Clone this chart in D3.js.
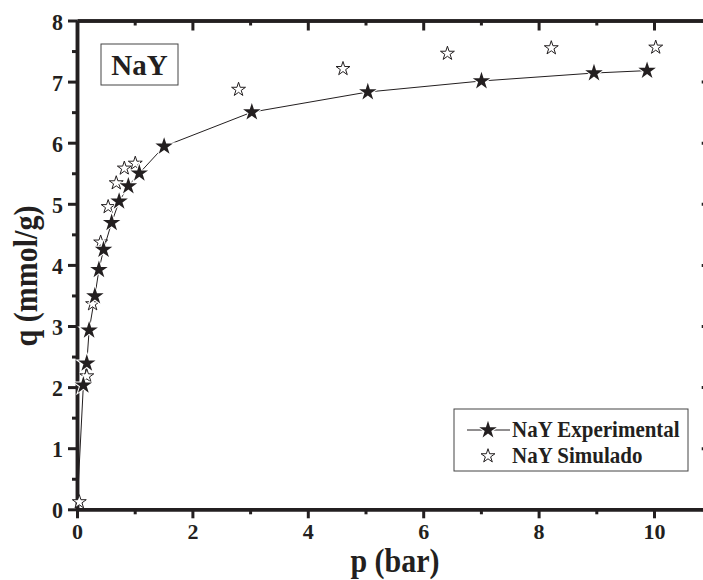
<!DOCTYPE html>
<html>
<head>
<meta charset="utf-8">
<title>NaY isoterma</title>
<script src="https://d3js.org/d3.v7.min.js"></script>
<style>
  body { margin: 0; background: #fff; }
  svg text { font-family: "Liberation Serif", "Times New Roman", serif; font-weight: bold; fill: #231f20; }
</style>
</head>
<body>
<script>
// dados
var expP = [0.0, 0.11, 0.17, 0.21, 0.31, 0.38, 0.46, 0.60, 0.73, 0.89, 1.08, 1.51, 3.03, 5.04, 7.01, 8.96, 9.88];
var expQ = [0.0, 2.03, 2.39, 2.93, 3.49, 3.92, 4.25, 4.69, 5.04, 5.29, 5.50, 5.94, 6.50, 6.83, 7.01, 7.14, 7.18];
var simP = [0.04, 0.17, 0.27, 0.41, 0.54, 0.68, 0.82, 1.01, 2.80, 4.61, 6.42, 8.22, 10.03];
var simQ = [0.12, 2.18, 3.36, 4.37, 4.95, 5.34, 5.58, 5.66, 6.87, 7.21, 7.46, 7.55, 7.56];
var xTicks = [0, 2, 4, 6, 8, 10];
var xMinor = [1, 3, 5, 7, 9];
var yTicks = [0, 1, 2, 3, 4, 5, 6, 7, 8];
var yMinor = [0.5, 1.5, 2.5, 3.5, 4.5, 5.5, 6.5, 7.5];
var seriesNames = ["NaY Experimental", "NaY Simulado"];
var boxLabel = "NaY";

var W = 703, H = 580;
var ink = "#231f20";
var svg = d3.select("body").append("svg")
  .attr("width", W).attr("height", H);

var x = d3.scaleLinear().domain([0, 11]).range([77, 711.7]);
var y = d3.scaleLinear().domain([0, 8]).range([509.3, 20.5]);

//eixos
function drawAxis(gen, tr, vals, size, fmt) {
  var g = svg.append("g").attr("transform", tr)
    .call(gen.tickValues(vals).tickSize(size).tickPadding(5).tickSizeOuter(0).tickFormat(fmt));
  g.selectAll("path").attr("stroke", ink).attr("stroke-width", 3.5);
  g.selectAll("line").attr("stroke", ink).attr("stroke-width", 3);
  return g;
}
var noTxt = function() { return ""; };

var gx = drawAxis(d3.axisBottom(x), "translate(0," + y(0) + ")", xTicks, 9, d3.format("d"));
drawAxis(d3.axisBottom(x), "translate(0," + y(0) + ")", xMinor, 5, noTxt);
var gy = drawAxis(d3.axisLeft(y), "translate(" + x(0) + ",0)", yTicks, 9, d3.format("d"));
drawAxis(d3.axisLeft(y), "translate(" + x(0) + ",0)", yMinor, 5, noTxt);
// espelho em cima e na direita, ticks para dentro
drawAxis(d3.axisTop(x), "translate(0," + y(8) + ")", xTicks, -10, noTxt);
drawAxis(d3.axisTop(x), "translate(0," + y(8) + ")", xMinor, -5, noTxt);
drawAxis(d3.axisRight(y), "translate(" + x(11) + ",0)", yTicks, -10, noTxt);
drawAxis(d3.axisRight(y), "translate(" + x(11) + ",0)", yMinor, -5, noTxt);

gx.selectAll(".tick text").attr("font-size", 22).attr("dy", "0.72em");
gy.selectAll(".tick text").attr("font-size", 22).attr("dy", "0.36em")
  .attr("transform", "scale(1,1.08)");

// fonte um pouco esticada na vertical, como no original
svg.append("text").attr("transform", "translate(395,572) scale(1,1.1)")
  .attr("text-anchor", "middle").attr("font-size", 30).text("p (bar)");
svg.append("text").attr("transform", "translate(37,276) rotate(-90) scale(1,1.12)")
  .attr("text-anchor", "middle").attr("font-size", 30).text("q (mmol/g)");

//series
var expData = expP.map(function(p, i) { return [p, expQ[i]]; });
var simData = simP.map(function(p, i) { return [p, simQ[i]]; });

var line = d3.line().x(function(d) { return x(d[0]); }).y(function(d) { return y(d[1]); });
svg.append("path").datum(expData).attr("d", line)
  .attr("fill", "none").attr("stroke", ink).attr("stroke-width", 1);

var starBig = d3.symbol().type(d3.symbolStar).size(95);
var starSmall = d3.symbol().type(d3.symbolStar).size(60);

svg.selectAll(".sim").data(simData).enter().append("path")
  .attr("class", "sim")
  .attr("transform", function(d) { return "translate(" + x(d[0]) + "," + y(d[1]) + ")"; })
  .attr("d", starSmall).attr("fill", "#fff").attr("stroke", ink).attr("stroke-width", 1);

// o ponto na origem nao mostra simbolo
svg.selectAll(".exp").data(expData.filter(function(d) { return d[0] > 0; })).enter().append("path")
  .attr("class", "exp")
  .attr("transform", function(d) { return "translate(" + x(d[0]) + "," + y(d[1]) + ")"; })
  .attr("d", starBig).attr("fill", ink).attr("stroke", "#fff").attr("stroke-width", 2)
  .attr("paint-order", "stroke");

//caixa NaY
svg.append("rect").attr("x", 101).attr("y", 44).attr("width", 77).attr("height", 41)
  .attr("fill", "#fff").attr("stroke", "#444").attr("stroke-width", 1);
svg.append("text").attr("x", 139.5).attr("y", 75).attr("text-anchor", "middle")
  .attr("font-size", 29).text(boxLabel);

//legenda
var leg = svg.append("g");
leg.append("rect").attr("x", 454).attr("y", 409).attr("width", 234).attr("height", 62)
  .attr("fill", "#fff").attr("stroke", "#444").attr("stroke-width", 1);
leg.append("line").attr("x1", 467).attr("x2", 510).attr("y1", 430).attr("y2", 430)
  .attr("stroke", ink).attr("stroke-width", 1);
leg.append("path").attr("transform", "translate(488,430)").attr("d", starBig)
  .attr("fill", ink).attr("stroke", "#fff").attr("stroke-width", 2).attr("paint-order", "stroke");
leg.append("path").attr("transform", "translate(488,456)").attr("d", starSmall)
  .attr("fill", "#fff").attr("stroke", ink).attr("stroke-width", 1);
leg.selectAll(".lt").data(seriesNames).enter().append("text")
  .attr("transform", function(d, i) { return "translate(512," + (437 + i * 26) + ") scale(1,1.12)"; })
  .attr("font-size", 21).text(function(d) { return d; });
</script>
</body>
</html>
